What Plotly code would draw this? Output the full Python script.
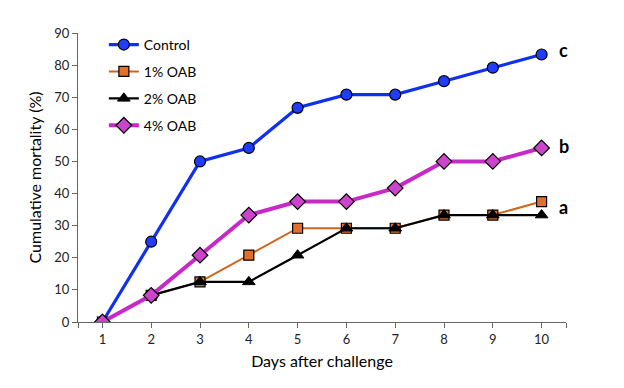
import plotly.graph_objects as go

days = [1, 2, 3, 4, 5, 6, 7, 8, 9, 10]
control = [0, 25.0, 50.0, 54.2, 66.7, 70.8, 70.8, 75.0, 79.2, 83.3]
oab1 = [0, 8.3, 12.5, 20.8, 29.2, 29.2, 29.2, 33.3, 33.3, 37.5]
oab2 = [0, 8.3, 12.5, 12.5, 20.8, 29.2, 29.2, 33.3, 33.3, 33.3]
oab4 = [0, 8.3, 20.8, 33.3, 37.5, 37.5, 41.7, 50.0, 50.0, 54.2]
series_names = ["Control", "1% OAB", "2% OAB", "4% OAB"]
sig_letters = ["c", "b", "a"]
sig_y = [84.8, 54.9, 35.9]
y_ticks = [0, 10, 20, 30, 40, 50, 60, 70, 80, 90]

FONT = "Lato, Open Sans, sans-serif"

fig = go.Figure()
styles = [
    (control, dict(color="#1030F0", width=3.2), dict(symbol="circle", size=11, color="#1f3cff", line=dict(color="black", width=1.2))),
    (oab1, dict(color="#D0651F", width=2), dict(symbol="square", size=10, color="#E0702A", line=dict(color="black", width=1.2))),
    (oab2, dict(color="black", width=2.2), dict(symbol="triangle-up", size=11, color="black", line=dict(color="black", width=1))),
    (oab4, dict(color="#C828C8", width=4), dict(symbol="diamond", size=12, color="#CC44CC", line=dict(color="black", width=1.2))),
]
for name, (vals, line, marker) in zip(series_names, styles):
    fig.add_trace(go.Scatter(x=days, y=vals, name=name, mode="lines+markers",
                             line=line, marker=marker, legendgroup=name))

for letter, yv in zip(sig_letters, sig_y):
    fig.add_annotation(x=10.45, y=yv, text="<b>%s</b>" % letter, showarrow=False,
                       xref="x", yref="y", xanchor="center", yanchor="middle",
                       font=dict(family=FONT, size=18, color="black"))

tickvals = [0.5] + days + [10.5]
ticktext = [""] + [str(d) for d in days] + [""]

fig.update_layout(
    width=624, height=388,
    margin=dict(l=70, r=66, t=25, b=74, autoexpand=False),
    paper_bgcolor="white", plot_bgcolor="white",
    font=dict(family=FONT, size=13, color="#222"),
    showlegend=True,
    legend=dict(x=0.053, y=1.014, xanchor="left", yanchor="top",
                font=dict(family=FONT, size=14, color="black"),
                bgcolor="rgba(0,0,0,0)", tracegroupgap=5.7,
                itemwidth=30),
    xaxis=dict(range=[0.5, 10.5], tickvals=tickvals, ticktext=ticktext,
               showgrid=False, zeroline=False, showline=True, automargin=False,
               linecolor="#666", linewidth=1.2, ticks="outside", ticklen=5,
               tickcolor="#666", tickfont=dict(size=13, color="#222"),
               title=dict(text="Days after challenge", font=dict(size=16, color="black"), standoff=10)),
    yaxis=dict(range=[0, 90], tickvals=y_ticks, showgrid=False, zeroline=False,
               showline=True, linecolor="#666", linewidth=1.2, ticks="outside", automargin=False,
               ticklen=5, tickcolor="#666", tickfont=dict(size=13, color="#222"),
               title=dict(text="Cumulative mortality (%)", font=dict(size=16, color="black"), standoff=8)),
)

fig.write_html("out.html")
